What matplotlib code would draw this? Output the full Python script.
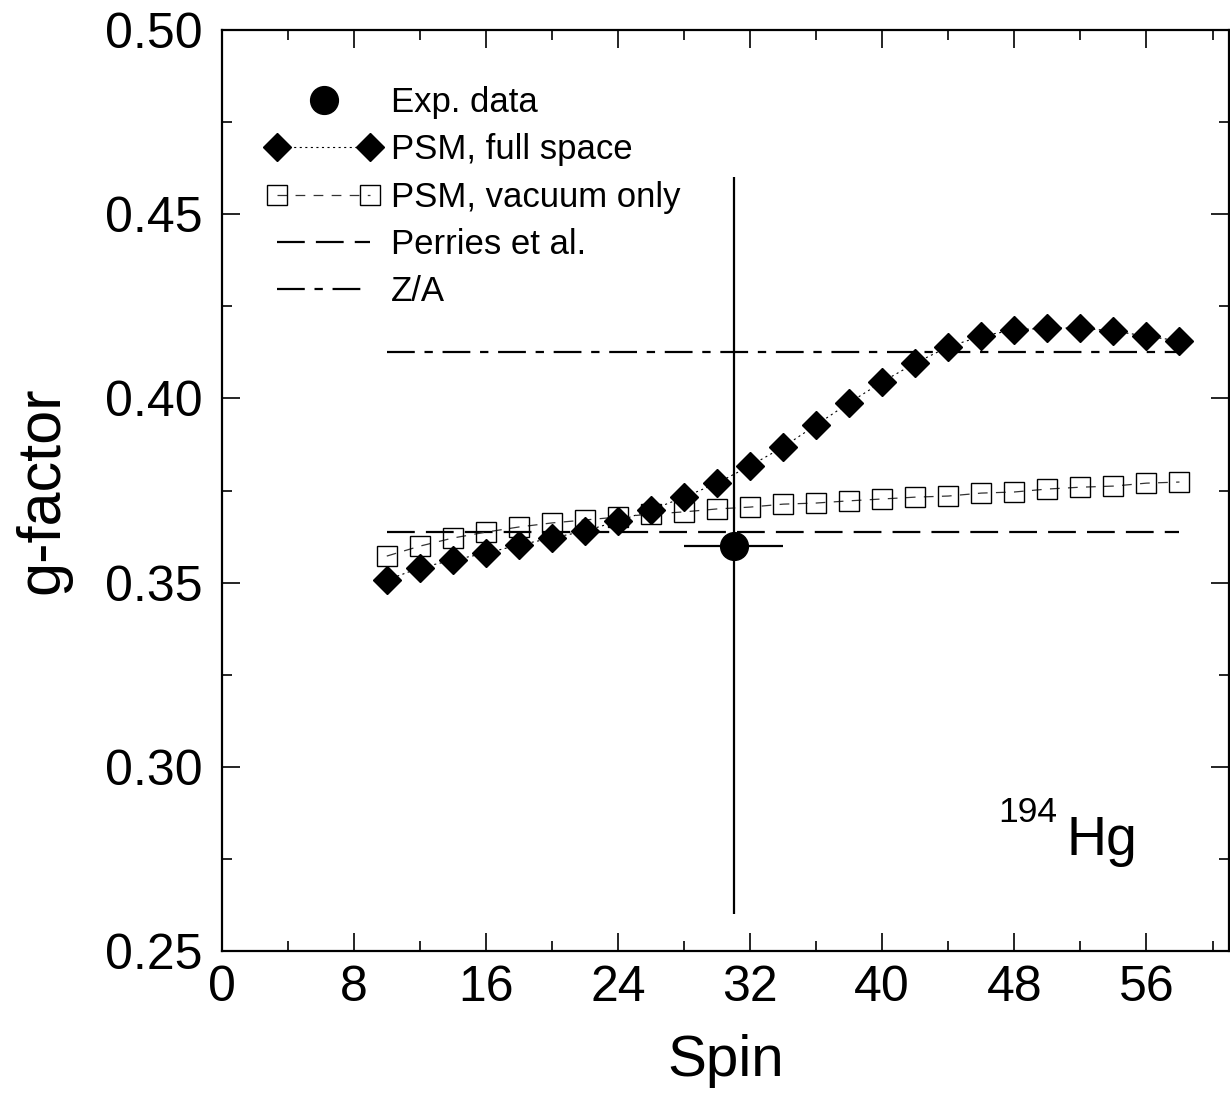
import matplotlib
matplotlib.use("Agg")
import matplotlib.pyplot as plt
from matplotlib.lines import Line2D
from matplotlib.legend_handler import HandlerLine2D

plt.rcParams['font.family'] = ['Liberation Sans', 'DejaVu Sans']
plt.rcParams['lines.scale_dashes'] = False

spin = [10, 12, 14, 16, 18, 20, 22, 24, 26, 28, 30, 32, 34, 36, 38, 40, 42, 44, 46, 48, 50, 52, 54, 56, 58]
g_full = [0.3507, 0.3540, 0.3561, 0.3580, 0.3602, 0.3621, 0.3640, 0.3667, 0.3697, 0.3732, 0.3770, 0.3817,
          0.3868, 0.3928, 0.3988, 0.4045, 0.4096, 0.4140, 0.4169, 0.4186, 0.4191, 0.4191, 0.4183, 0.4169, 0.4156]
g_vac = [0.3572, 0.3599, 0.3621, 0.3637, 0.3651, 0.3662, 0.3670, 0.3678, 0.3686, 0.3692, 0.3700, 0.3705,
         0.3713, 0.3716, 0.3722, 0.3727, 0.3732, 0.3735, 0.3743, 0.3746, 0.3754, 0.3759, 0.3762, 0.3770, 0.3773]
perries_g = 0.3637
za_g = 0.4126
line_span = [10, 58]
exp_spin = [31]
exp_g = [0.36]
exp_xerr = [3]
exp_yerr = [0.10]

fig = plt.figure(figsize=(12.3, 10.96), dpi=100)
ax = fig.add_axes([0.1802, 0.1323, 0.8190, 0.8403])

D_MS = 14.5
S_MS = 15
C_MS = 20

ax.errorbar(exp_spin, exp_g, xerr=exp_xerr, yerr=exp_yerr, fmt='o', color='black',
            ms=C_MS, elinewidth=1.6, capsize=0, zorder=5)
ax.plot(spin, g_full, color='black', lw=0.8, ls=(0, (1.5, 2.5)), marker='D', ms=D_MS,
        mfc='black', mec='black', zorder=4)
ax.plot(spin, g_vac, color='#333333', lw=0.9, ls=(0, (7, 6)), marker='s', ms=S_MS,
        mfc='none', mec='black', mew=1.0, zorder=3)
ax.plot(line_span, [perries_g, perries_g], color='black', lw=1.6, ls=(0, (20, 8)), zorder=2)
ax.plot(line_span, [za_g, za_g], color='black', lw=1.6, ls=(0, (20, 7, 6, 7)), zorder=2)

ax.set_xlim(0, 61)
ax.set_ylim(0.25, 0.50)
ax.set_xticks([0, 8, 16, 24, 32, 40, 48, 56])
ax.set_xticks(range(4, 61, 8), minor=True)
ax.set_yticks([0.25, 0.30, 0.35, 0.40, 0.45, 0.50])
ax.set_yticks([0.275, 0.325, 0.375, 0.425, 0.475], minor=True)
ax.set_yticklabels(['0.25', '0.30', '0.35', '0.40', '0.45', '0.50'])
ax.tick_params(which='both', direction='in', top=True, right=True, labelsize=36, width=1.2)
ax.tick_params(axis='y', pad=14)
ax.tick_params(axis='x', pad=10)
ax.tick_params(which='major', length=13)
ax.tick_params(which='minor', length=7)
for s in ax.spines.values():
    s.set_linewidth(1.6)

ax.set_xlabel('Spin', fontsize=42, labelpad=17)
ax.set_ylabel('g-factor', fontsize=44, labelpad=24)

ax.text(0.829, 0.140, '194', transform=ax.transAxes, fontsize=25.5, ha='right', va='baseline')
ax.text(0.839, 0.104, 'Hg', transform=ax.transAxes, fontsize=40, ha='left', va='baseline')

h_exp = Line2D([], [], ls='none', marker='o', ms=C_MS, color='black')
h_full = Line2D([], [], color='black', lw=0.8, ls=(0, (1.5, 2.5)), marker='D', ms=D_MS, mfc='black', mec='black')
h_vac = Line2D([], [], color='#333333', lw=0.9, ls=(0, (7, 6)), marker='s', ms=S_MS, mfc='none', mec='black')
h_per = Line2D([], [], color='black', lw=1.6, ls=(0, (20, 8)))
h_za = Line2D([], [], color='black', lw=1.6, ls=(0, (20, 7, 6, 7)))
leg = ax.legend([h_exp, h_full, h_vac, h_per, h_za],
                ['Exp. data', 'PSM, full space', 'PSM, vacuum only', 'Perries et al.', 'Z/A'],
                loc='upper left', bbox_to_anchor=(0.0446, 0.939), frameon=False, fontsize=25,
                handlelength=3.28, handletextpad=0.29, labelspacing=0.41, borderpad=0, borderaxespad=0,
                numpoints=2, handler_map={h_exp: HandlerLine2D(numpoints=1)})

fig.savefig('out.png', dpi=100)
